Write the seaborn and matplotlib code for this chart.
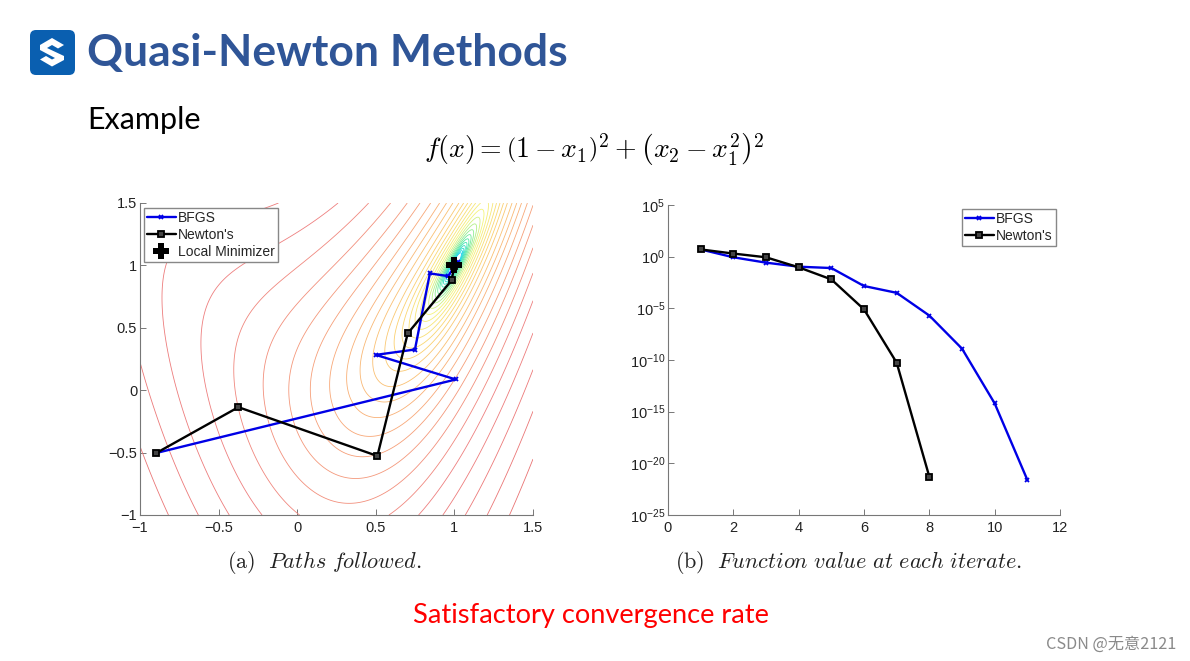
import numpy as np
import pandas as pd
import seaborn as sns
import matplotlib.pyplot as plt
from matplotlib.patches import FancyBboxPatch, Polygon

# path iterates, panel (a)
bfgs_x1 = [-0.896, 1.009, 0.50, 0.749, 0.844, 0.96, 1.02, 1.0]
bfgs_x2 = [-0.503, 0.086, 0.283, 0.326, 0.936, 0.914, 1.03, 1.0]
newton_x1 = [-0.896, -0.374, 0.51, 0.703, 0.982, 1.0]
newton_x2 = [-0.503, -0.136, -0.527, 0.455, 0.88, 0.997]
minimizer = (1.0, 1.0)

# function value per iterate, panel (b), as log10
bfgs_iter = [1, 2, 3, 4, 5, 6, 7, 8, 9, 10, 11]
bfgs_log = [0.7, -0.06, -0.58, -0.97, -1.1, -2.84, -3.5, -5.7, -8.9, -14.2, -21.6]
newton_iter = [1, 2, 3, 4, 5, 6, 7, 8]
newton_log = [0.7, 0.3, -0.06, -1.03, -2.2, -5.1, -10.26, -21.3]

# contour heights
levels = [0.002, 0.0027, 0.0036, 0.0048, 0.0064, 0.0085, 0.0113, 0.015, 0.02, 0.0266,
          0.0354, 0.047, 0.0626, 0.0832, 0.111, 0.147, 0.196, 0.27, 0.36, 0.47,
          0.63, 0.84, 1.11, 1.48, 1.97, 2.6, 3.46, 4.6, 6.1, 8.1, 10.8]

W, H = 1190, 661


def px_axes(x0, y0, x1, y1):
    return fig.add_axes([x0 / W, 1 - y1 / H, (x1 - x0) / W, (y1 - y0) / H])


def style_ax(ax):
    sns.despine(ax=ax)
    for s in ['left', 'bottom']:
        ax.spines[s].set_color('#777777')
        ax.spines[s].set_linewidth(0.8)
    ax.tick_params(direction='in', length=4, width=0.7, color='#777777', bottom=True, left=True,
                   labelsize=10.5, labelcolor='#222222', pad=4)
    ax.tick_params(axis='y', pad=2)
    ax.set_xlabel('')
    ax.set_ylabel('')


sns.set_theme(style='ticks')
plt.rcParams['font.family'] = ['Liberation Sans', 'DejaVu Sans']
plt.rcParams['mathtext.fontset'] = 'cm'

legend_opts = dict(loc='upper left', fontsize=10, frameon=True, fancybox=False,
                   framealpha=1, edgecolor='#888888', borderaxespad=0, borderpad=0.22,
                   labelspacing=0.2, handlelength=2.05, handletextpad=0.2)

fig = plt.figure(figsize=(W / 100, H / 100), dpi=100)
legend_opts['bbox_transform'] = fig.transFigure

# panel (a)
ax1 = px_axes(140, 203, 533, 515)
g1, g2 = np.meshgrid(np.linspace(-1, 1.5, 900), np.linspace(-1, 1.5, 900))
fval = (1 - g1) ** 2 + (g2 - g1 ** 2) ** 2
pal = sns.blend_palette(['#10d0f0', '#50e8a0', '#f4f47a', '#fbd070', '#f8a878', '#ee7f7f', '#e87070'],
                        len(levels))
ax1.contour(g1, g2, fval, levels=levels, colors=pal, linewidths=0.6)

df_b = pd.DataFrame({'x1': bfgs_x1, 'x2': bfgs_x2})
df_n = pd.DataFrame({'x1': newton_x1, 'x2': newton_x2})
sns.lineplot(data=df_b, x='x1', y='x2', sort=False, estimator=None, ax=ax1, color='#0000e6',
             lw=1.7, marker='x', ms=3.5, markeredgecolor='#0000e6', mew=1.3, label='BFGS')
sns.lineplot(data=df_n, x='x1', y='x2', sort=False, estimator=None, ax=ax1, color='black',
             lw=1.7, marker='s', ms=5, markerfacecolor='#444444', markeredgecolor='black', mew=1.3,
             label="Newton's")
ax1.plot([minimizer[0]], [minimizer[1]], ls='none', marker='P', ms=11, color='black', mew=0,
         label='Local Minimizer')
ax1.set_xlim(-1, 1.5)
ax1.set_ylim(-1, 1.5)
ax1.set_xticks([-1, -0.5, 0, 0.5, 1, 1.5])
ax1.set_xticklabels(['\u22121', '\u22120.5', '0', '0.5', '1', '1.5'])
ax1.set_yticks([-1, -0.5, 0, 0.5, 1, 1.5])
ax1.set_yticklabels(['\u22121', '\u22120.5', '0', '0.5', '1', '1.5'])
style_ax(ax1)
ax1.legend(bbox_to_anchor=(144 / W, 1 - 208 / H), **legend_opts)

# panel (b)
ax2 = px_axes(668, 205, 1060, 515)
df_bv = pd.DataFrame({'it': bfgs_iter, 'val': 10.0 ** np.array(bfgs_log)})
df_nv = pd.DataFrame({'it': newton_iter, 'val': 10.0 ** np.array(newton_log)})
sns.lineplot(data=df_bv, x='it', y='val', ax=ax2, color='#0000e6', lw=1.7, marker='x', ms=3.5,
             markeredgecolor='#0000e6', mew=1.3, label='BFGS')
sns.lineplot(data=df_nv, x='it', y='val', ax=ax2, color='black', lw=1.7, marker='s', ms=5,
             markerfacecolor='#444444', markeredgecolor='black', mew=1.3, label="Newton's")
ax2.set_yscale('log')
ax2.set_xlim(0, 12)
ax2.set_ylim(1e-25, 1e5)
ax2.set_xticks([0, 2, 4, 6, 8, 10, 12])
ax2.set_yticks([1e-25, 1e-20, 1e-15, 1e-10, 1e-5, 1e0, 1e5])
ax2.minorticks_off()
style_ax(ax2)
ax2.legend(bbox_to_anchor=(962 / W, 1 - 209 / H), **legend_opts)

# slide layer
top = fig.add_axes([0, 0, 1, 1], zorder=5)
top.set_xlim(0, W)
top.set_ylim(H, 0)
top.axis('off')
top.patch.set_alpha(0)

top.add_patch(FancyBboxPatch((34, 34), 37, 37, boxstyle='round,pad=4,rounding_size=6',
                             fc='#0a5fb0', ec='none'))
top.add_patch(Polygon([(52, 38), (64, 45), (58, 48.5), (52, 45), (47, 48), (64, 56), (64, 60),
                       (52, 66.5), (40, 59.5), (46, 56), (52, 59.5), (55, 58), (40, 50), (40, 45)],
                      fc='white', ec='none'))

top.text(87, 53, 'Quasi-Newton Methods', fontsize=32, fontweight='bold', family='Lato',
         color='#2f5597', va='center', ha='left')
top.text(87, 120, 'Example', fontsize=22, family='Lato', color='black', va='center', ha='left')
top.text(594, 149, r'$f(x)=\left(1-x_1\right)^2+\left(x_2-x_1^2\right)^2$', fontsize=20,
         color='black', va='center', ha='center')
top.text(324, 562, r'$\mathrm{(a)}\ \ \mathit{Paths\ followed.}$', fontsize=16, color='#222222',
         va='center', ha='center', math_fontfamily='cm')
top.text(849, 562, r'$\mathrm{(b)}\ \ \mathit{Function\ value\ at\ each\ iterate.}$', fontsize=16,
         color='#222222', va='center', ha='center', math_fontfamily='cm')
top.text(591, 616, 'Satisfactory convergence rate', fontsize=19.6, family='Lato', color='#ff0000',
         va='center', ha='center')
top.text(1176, 644, 'CSDN @无意2121', fontsize=11.7, color='#8a8a8a', va='center', ha='right',
         family=['Noto Sans CJK SC', 'DejaVu Sans'])

fig.savefig('out.png', dpi=100)
